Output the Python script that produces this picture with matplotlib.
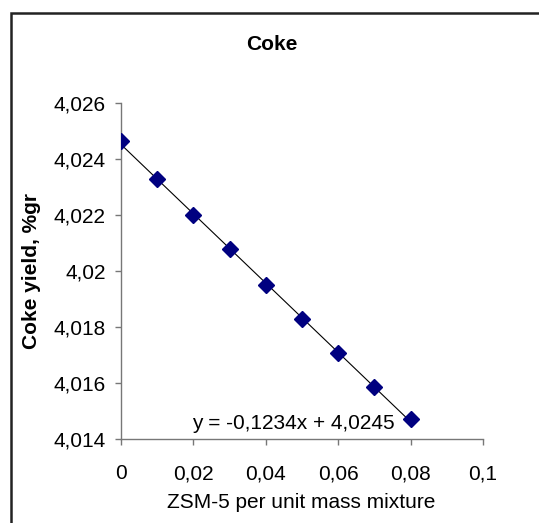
import numpy as np
import matplotlib
matplotlib.use('Agg')
import matplotlib.pyplot as plt
from matplotlib.patches import Rectangle

plt.rcParams['font.family'] = ['Liberation Sans', 'DejaVu Sans']

# Data
zsm5 = [0.0, 0.01, 0.02, 0.03, 0.04, 0.05, 0.06, 0.07, 0.08]
coke_yield = [4.02464, 4.02327, 4.02200, 4.02077, 4.01950,
              4.01829, 4.01706, 4.01587, 4.01471]

x_ticks = [0, 0.02, 0.04, 0.06, 0.08, 0.1]
x_labels = ['0', '0,02', '0,04', '0,06', '0,08', '0,1']
y_ticks = [4.014, 4.016, 4.018, 4.020, 4.022, 4.024, 4.026]
y_labels = ['4,014', '4,016', '4,018', '4,02', '4,022', '4,024', '4,026']
equation = 'y = -0,1234x + 4,0245'

W, H = 539, 523
fig = plt.figure(figsize=(W / 100, H / 100), dpi=100)
ax = fig.add_axes([121 / W, 1 - 439 / H, 362 / W, 336 / H])

# Data points and linear trendline
ax.plot(zsm5, coke_yield, linestyle='none', marker='D', markersize=8.3,
        color='#000080', zorder=3)
slope, intercept = np.polyfit(zsm5, coke_yield, 1)
xs = np.array([zsm5[0], zsm5[-1]])
ax.plot(xs, slope * xs + intercept, color='black', linewidth=0.8, zorder=2)

ax.set_xlim(0, 0.1)
ax.set_ylim(4.014, 4.026)
ax.set_xticks(x_ticks)
ax.set_xticklabels(x_labels)
ax.set_yticks(y_ticks)
ax.set_yticklabels(y_labels)

for side in ['top', 'right']:
    ax.spines[side].set_visible(False)
for side in ['left', 'bottom']:
    ax.spines[side].set_color('#777777')
    ax.spines[side].set_linewidth(1.0)
ax.tick_params(axis='both', direction='out', length=4, width=1.0,
               color='#777777', labelsize=15)
ax.tick_params(axis='x', pad=14)
ax.tick_params(axis='y', pad=7)

ax.text(0.0757, 4.01457, equation, ha='right', va='center', fontsize=15)

# Title and axis labels
fig.text(272 / W, 1 - 44 / H, 'Coke', ha='center', va='center',
         fontsize=15, fontweight='bold')
fig.text(32 / W, 1 - 271 / H, 'Coke yield, %gr', ha='center', va='center',
         rotation=90, fontsize=15, fontweight='bold')
fig.text(301 / W, 1 - 502 / H, 'ZSM-5 per unit mass mixture', ha='center',
         va='center', fontsize=15)

# Chart border
fig.patches.append(Rectangle((11 / W, -0.1), 1.0, 1.1 - 13 / H,
                             transform=fig.transFigure, fill=False,
                             edgecolor='#222222', linewidth=1.8))

fig.savefig('out.png', dpi=100)
